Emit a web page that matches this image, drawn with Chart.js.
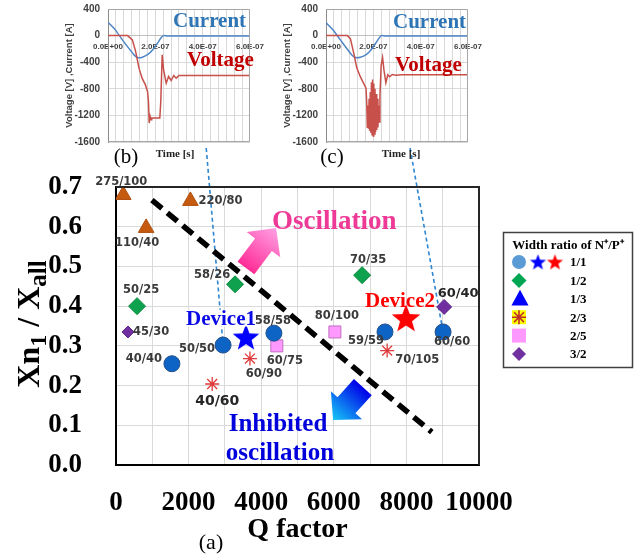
<!DOCTYPE html>
<html>
<head>
<meta charset="utf-8">
<script src="https://cdn.jsdelivr.net/npm/chart.js@4.4.1/dist/chart.umd.min.js"></script>
<style>
  html, body { margin:0; padding:0; background:#ffffff; }
  #wrap { position:relative; width:644px; height:556px; overflow:hidden; background:#fff; }
  #wrap canvas { position:absolute; top:0; }
</style>
</head>
<body>
<div id="wrap">
  <canvas id="main" width="644" height="556" style="left:0"></canvas>
  <canvas id="insetB" width="270" height="172" style="left:0"></canvas>
  <canvas id="insetC" width="270" height="172" style="left:218px"></canvas>
</div>
<script>
// ================= Panel (a): Q factor vs Xn1/Xall =================
const triLabels = ['275/100', '220/80', '110/40'];          // width ratio 1/3
const triQ = [200, 2050, 830];
const triR = [0.680, 0.665, 0.597];

const greenLabels = ['50/25', '58/26', '70/35'];            // width ratio 1/2
const greenQ = [580, 3280, 6780];
const greenR = [0.400, 0.455, 0.478];

const purpleLabels = ['45/30', '60/40'];                    // width ratio 3/2
const purpleQ = [330, 9040];
const purpleR = [0.335, 0.398];

const circleLabels = ['40/40', '50/50', '58/58', '59/59', '60/60']; // width ratio 1/1
const circleQ = [1540, 2950, 4350, 7410, 9010];
const circleR = [0.255, 0.302, 0.332, 0.335, 0.335];

const device1Q = [3580];
const device1R = [0.322];
const device2Q = [7990];
const device2R = [0.370];

const pinkLabels = ['80/100', '60/75'];                     // width ratio 2/5
const pinkQ = [6030, 4430];
const pinkR = [0.335, 0.300];

const asterLabels = ['60/90', '40/60', '70/105'];           // width ratio 2/3
const asterQ = [3690, 2650, 7470];
const asterR = [0.268, 0.204, 0.288];

const boundaryQ = [990, 8700];
const boundaryR = [0.667, 0.083];

const qMin = 0, qMax = 10000, qGridStep = 1000, qLabelStep = 2000;
const rMin = 0, rMax = 0.7, rStep = 0.1;

const legendTitle = 'Width ratio of N\u207A/P\u207A';
const legendRatios = ['1/1', '1/2', '1/3', '2/3', '2/5', '3/2'];

// ================= Panels (b) and (c): waveforms =================
const timeVoltB = [0, 0.83e-7, 1.03e-7, 1.17e-7, 1.31e-7, 1.44e-7, 1.58e-7, 1.67e-7, 1.71e-7, 1.74e-7, 1.78e-7,
  1.82e-7, 1.85e-7, 2.19e-7, 2.23e-7, 2.29e-7, 2.35e-7, 2.46e-7, 2.56e-7, 2.67e-7, 2.78e-7, 2.88e-7, 3.0e-7, 3.2e-7, 6.0e-7];
const voltB = [0, 0, -65, -240, -490, -640, -740, -840, -990, -1315, -1215,
  -1265, -1240, -1240, -990, -290, -515, -715, -615, -675, -600, -640, -600, -600, -600];
const timeCurrB = [0, 0.3e-7, 0.6e-7, 0.9e-7, 1.1e-7, 1.25e-7, 1.45e-7, 1.7e-7, 1.9e-7, 2.1e-7, 2.25e-7, 2.35e-7, 2.5e-7, 6.0e-7];
const currB = [200, 90, -60, -200, -290, -330, -325, -280, -210, -110, -30, 0, -5, -5];

const timeVoltC = [0, 0.9e-7, 1.03e-7, 1.17e-7, 1.3e-7, 1.44e-7, 1.58e-7, 1.69e-7, 1.72e-7, 1.745e-7, 1.77e-7, 1.795e-7,
  1.82e-7, 1.845e-7, 1.87e-7, 1.895e-7, 1.92e-7, 1.945e-7, 1.97e-7, 1.995e-7, 2.02e-7, 2.045e-7, 2.07e-7, 2.095e-7,
  2.12e-7, 2.145e-7, 2.17e-7, 2.195e-7, 2.22e-7, 2.245e-7, 2.28e-7, 2.33e-7, 2.39e-7, 2.45e-7, 2.53e-7, 2.61e-7,
  2.69e-7, 2.8e-7, 2.95e-7, 3.2e-7, 6.0e-7];
const voltC = [0, 0, -45, -260, -485, -610, -710, -790, -1000, -1380, -1050, -1400,
  -950, -1430, -850, -1460, -700, -1490, -660, -1510, -720, -1480, -800, -1450,
  -880, -1420, -950, -1380, -1050, -1300, -900, -450, -330, -520, -710, -590,
  -620, -585, -595, -590, -590];
const timeCurrC = [0, 0.3e-7, 0.6e-7, 0.9e-7, 1.1e-7, 1.25e-7, 1.45e-7, 1.7e-7, 1.9e-7, 2.1e-7, 2.25e-7, 2.33e-7, 2.5e-7, 6.0e-7];
const currC = [195, 85, -60, -205, -295, -330, -325, -285, -215, -115, -35, 0, -5, -5];

const insetTimeMax = 6e-7, insetTimeLabelStep = 2e-7, insetTimeGridDivisions = 18;
const insetVMin = -1600, insetVMax = 400, insetVGrid = 200, insetVLabelStep = 400;
const insetYTitle = 'Voltage [V] ,Current [A]';
const insetXTitle = 'Time [s]';

// ================= helpers =================
const SERIF = '"Liberation Serif", "Times New Roman", serif';
const SANS = '"Liberation Sans", Arial, sans-serif';
const LABELFONT = '"DejaVu Sans", sans-serif';

function pts(xs, ys) { return xs.map((x, i) => ({ x: x, y: ys[i] })); }

function sci(v) {
  if (Math.abs(v) < 1e-15) return '0.0E+00';
  const e = Math.floor(Math.log10(Math.abs(v)) + 1e-9);
  const m = v / Math.pow(10, e);
  return m.toFixed(1) + 'E' + (e < 0 ? '-' : '+') + String(Math.abs(e)).padStart(2, '0');
}

function makeStar(color, R) {
  const size = Math.ceil(2 * R + 2);
  const c = document.createElement('canvas');
  c.width = size; c.height = size;
  const g = c.getContext('2d');
  const cx = size / 2, cy = size / 2 + R * 0.08;
  g.beginPath();
  for (let i = 0; i < 10; i++) {
    const r = i % 2 === 0 ? R : R * 0.42;
    const a = -Math.PI / 2 + i * Math.PI / 5;
    g.lineTo(cx + r * Math.cos(a), cy + r * Math.sin(a));
  }
  g.closePath();
  g.fillStyle = color;
  g.fill();
  return c;
}

// ================= insets =================
const insetStyles = {
  B: { left: 0, current: [173, 27], voltage: [187, 66], time: [175, 157], tag: ['(b)', 126, 163] },
  C: { left: 218, current: [175, 28], voltage: [177, 71], time: [183, 157], tag: ['(c)', 114, 163] }
};

function insetDecor(st) {
  return {
    id: 'insetDecor',
    afterDraw(chart) {
      const ctx = chart.ctx, a = chart.chartArea;
      ctx.save();
      ctx.strokeStyle = '#A6A6A6';
      ctx.lineWidth = 1;
      ctx.beginPath();
      ctx.moveTo(a.left, a.top + 0.5); ctx.lineTo(a.right - 0.5, a.top + 0.5);
      ctx.lineTo(a.right - 0.5, a.bottom - 0.5); ctx.lineTo(a.left, a.bottom - 0.5);
      ctx.stroke();
      ctx.restore();

      ctx.save();
      ctx.translate(a.left - 39, (a.top + a.bottom) / 2);
      ctx.rotate(-Math.PI / 2);
      ctx.font = 'bold 9.5px ' + SANS;
      ctx.fillStyle = '#404040';
      ctx.textAlign = 'center';
      ctx.textBaseline = 'middle';
      ctx.fillText(insetYTitle, 0, 0);
      ctx.restore();

      ctx.save();
      ctx.textBaseline = 'alphabetic';
      ctx.textAlign = 'left';
      ctx.font = 'bold 21px ' + SERIF;
      ctx.fillStyle = '#2E75B6';
      ctx.fillText('Current', st.current[0], st.current[1]);
      ctx.font = 'bold 21px ' + SERIF;
      ctx.fillStyle = '#C00000';
      ctx.fillText('Voltage', st.voltage[0], st.voltage[1]);
      ctx.textAlign = 'center';
      ctx.font = 'bold 11px ' + SERIF;
      ctx.fillStyle = '#222';
      ctx.fillText(insetXTitle, st.time[0], st.time[1]);
      ctx.font = '21px ' + SERIF;
      ctx.fillStyle = '#000';
      ctx.fillText(st.tag[0], st.tag[1], st.tag[2]);
      ctx.restore();
    }
  };
}

function makeInset(id, tv, v, tc, c, st) {
  return new Chart(document.getElementById(id), {
    type: 'line',
    data: {
      datasets: [
        { data: pts(tv, v), borderColor: '#C8504B', borderWidth: 1.5, pointRadius: 0, tension: 0 },
        { data: pts(tc, c), borderColor: '#4F86C6', borderWidth: 1.5, pointRadius: 0, tension: 0.2 }
      ]
    },
    options: {
      responsive: false, animation: false, devicePixelRatio: 1,
      layout: { padding: { left: 0, top: 9, right: 16, bottom: 30 } },
      plugins: { legend: { display: false }, tooltip: { enabled: false } },
      scales: {
        x: {
          type: 'linear', min: 0, max: insetTimeMax, position: { y: 0 },
          afterFit(scale) { scale.height = 0; },
          afterBuildTicks(scale) {
            const t = [];
            for (let i = 0; i <= insetTimeGridDivisions; i++) t.push({ value: i * insetTimeMax / insetTimeGridDivisions });
            scale.ticks = t;
          },
          ticks: {
            autoSkip: false, maxRotation: 0, padding: 6, color: '#404040',
            font: { family: SANS, size: 8, weight: 'bold' },
            callback: (val, idx) => (idx % (insetTimeGridDivisions * insetTimeLabelStep / insetTimeMax) === 0 ? sci(val) : '')
          },
          grid: { color: '#D9D9D9', drawTicks: false, lineWidth: 1 },
          border: { display: true, color: '#BFBFBF', width: 1 }
        },
        y: {
          min: insetVMin, max: insetVMax,
          afterFit(scale) { scale.width = 108; scale.paddingTop = 0; scale.paddingBottom = 0; },
          ticks: {
            stepSize: insetVGrid, padding: 8, color: '#404040',
            font: { family: SANS, size: 10, weight: 'bold' },
            callback: v => (Math.round(v) % insetVLabelStep === 0 ? String(Math.round(v)) : '')
          },
          grid: { color: '#D9D9D9', drawTicks: false, lineWidth: 1 },
          border: { display: true, color: '#8C8C8C', width: 1 }
        }
      }
    },
    plugins: [insetDecor(st)]
  });
}

const insetB = makeInset('insetB', timeVoltB, voltB, timeCurrB, currB, insetStyles.B);
const insetC = makeInset('insetC', timeVoltC, voltC, timeCurrC, currC, insetStyles.C);

// ================= main chart decorations =================
const labelStyle = {
  '275/100': [-2, -13, 'center', 11.5], '220/80': [8, 0, 'left', 11.5], '110/40': [-9, 15, 'center', 11.5],
  '58/26': [-23, -9, 'center', 11.5], '50/25': [4, -16, 'center', 11.5], '70/35': [6, -15, 'center', 11.5],
  '45/30': [5, 0, 'left', 11.5], '60/40': [14, -13, 'center', 13],
  '40/40': [-10, -5, 'right', 11.5], '50/50': [-8, 4, 'right', 11.5], '58/58': [-1, -12, 'center', 11.5],
  '59/59': [-19, 9, 'center', 11.5], '60/60': [9, 10, 'center', 11.5],
  '80/100': [2, -16, 'center', 11.5], '60/75': [8, 15, 'center', 11.5],
  '60/90': [14, 15, 'center', 11.5], '40/60': [5, 17, 'center', 14], '70/105': [8, 9, 'left', 11.5]
};

const annotationTexts = [
  { text: 'Oscillation', q: 4298, r: 0.594, align: 'left', size: 27, color: '#EE3A96' },
  { text: 'Device1', q: 1928, r: 0.353, align: 'left', size: 21, color: '#0A0AE6', bg: true },
  { text: 'Device2', q: 6860, r: 0.398, align: 'left', size: 21, color: '#FF0000' },
  { text: 'Inhibited', q: 4463, r: 0.0856, align: 'center', size: 25, color: '#0000DD' },
  { text: 'oscillation', q: 4518, r: 0.0126, align: 'center', size: 25, color: '#0000DD' }
];

const arrowShapes = [
  { tail: [3580, 0.496], tip: [4410, 0.597], shaft: 21, head: 42, headLen: 21, c0: '#FF2D96', c1: '#FFA0E4' },
  { tail: [6800, 0.196], tip: [5980, 0.113], shaft: 24, head: 42, headLen: 20, c0: '#0000E8', c1: '#16C8F6' }
];

const connectors = [
  { inset: () => insetB, left: insetStyles.B.left, t: 4.15e-7, ds: 'circles', idx: 1 },
  { inset: () => insetC, left: insetStyles.C.left, t: 3.55e-7, ds: 'circles', idx: 4 }
];

function drawArrow(ctx, p0, p1, shaft, head, headLen, c0, c1) {
  const dx = p1[0] - p0[0], dy = p1[1] - p0[1];
  const L = Math.hypot(dx, dy);
  const ux = dx / L, uy = dy / L, nx = -uy, ny = ux;
  const nk = [p1[0] - ux * headLen, p1[1] - uy * headLen];
  const g = ctx.createLinearGradient(p0[0], p0[1], p1[0], p1[1]);
  g.addColorStop(0, c0); g.addColorStop(1, c1);
  ctx.beginPath();
  ctx.moveTo(p0[0] + nx * shaft / 2, p0[1] + ny * shaft / 2);
  ctx.lineTo(nk[0] + nx * shaft / 2, nk[1] + ny * shaft / 2);
  ctx.lineTo(nk[0] + nx * head / 2, nk[1] + ny * head / 2);
  ctx.lineTo(p1[0], p1[1]);
  ctx.lineTo(nk[0] - nx * head / 2, nk[1] - ny * head / 2);
  ctx.lineTo(nk[0] - nx * shaft / 2, nk[1] - ny * shaft / 2);
  ctx.lineTo(p0[0] - nx * shaft / 2, p0[1] - ny * shaft / 2);
  ctx.closePath();
  ctx.fillStyle = g;
  ctx.fill();
}

function shape(ctx, kind, x, y, r, fill, stroke, lw) {
  ctx.beginPath();
  if (kind === 'circle') ctx.arc(x, y, r, 0, Math.PI * 2);
  else if (kind === 'diamond') { ctx.moveTo(x, y - r); ctx.lineTo(x + r, y); ctx.lineTo(x, y + r); ctx.lineTo(x - r, y); ctx.closePath(); }
  else if (kind === 'triangle') { ctx.moveTo(x, y - r); ctx.lineTo(x + r * 0.95, y + r * 0.75); ctx.lineTo(x - r * 0.95, y + r * 0.75); ctx.closePath(); }
  else if (kind === 'square') ctx.rect(x - r, y - r, 2 * r, 2 * r);
  if (fill) { ctx.fillStyle = fill; ctx.fill(); }
  if (stroke) { ctx.strokeStyle = stroke; ctx.lineWidth = lw || 1; ctx.stroke(); }
}

function asterisk(ctx, x, y, r, color, lw) {
  ctx.beginPath();
  for (let i = 0; i < 4; i++) {
    const a = i * Math.PI / 4;
    ctx.moveTo(x - r * Math.cos(a), y - r * Math.sin(a));
    ctx.lineTo(x + r * Math.cos(a), y + r * Math.sin(a));
  }
  ctx.strokeStyle = color; ctx.lineWidth = lw; ctx.stroke();
}

const legendBox = { x: 503.5, y: 232.5, w: 129, h: 135, markerX: 519, labelX: 570, row0: 262, rowStep: 18.4 };
const legendStarBlue = makeStar('#0000FF', 8.5);
const legendStarRed = makeStar('#FF0000', 8.5);

function drawLegend(ctx) {
  const L = legendBox;
  ctx.save();
  ctx.fillStyle = '#fff';
  ctx.fillRect(L.x, L.y, L.w, L.h);
  ctx.strokeStyle = '#404040'; ctx.lineWidth = 1.5;
  ctx.strokeRect(L.x, L.y, L.w, L.h);
  ctx.fillStyle = '#000';
  ctx.font = 'bold 13px ' + SERIF;
  ctx.textAlign = 'center'; ctx.textBaseline = 'alphabetic';
  ctx.fillText(legendTitle, L.x + L.w / 2, L.y + 16);
  ctx.font = 'bold 13px ' + SERIF;
  ctx.textAlign = 'left'; ctx.textBaseline = 'middle';
  legendRatios.forEach((lab, i) => {
    const y = L.row0 + i * L.rowStep;
    const mx = L.markerX;
    if (i === 0) {
      shape(ctx, 'circle', mx, y, 7, '#5B9BD5');
      ctx.drawImage(legendStarBlue, 538 - legendStarBlue.width / 2, y - legendStarBlue.height / 2);
      ctx.drawImage(legendStarRed, 555 - legendStarRed.width / 2, y - legendStarRed.height / 2);
    } else if (i === 1) shape(ctx, 'diamond', mx, y, 7.5, '#00A651');
    else if (i === 2) shape(ctx, 'triangle', mx + 1, y, 9, '#0000FF');
    else if (i === 3) { shape(ctx, 'square', mx, y, 7, '#FFFF00'); asterisk(ctx, mx, y, 7, '#C0302A', 1.6); }
    else if (i === 4) shape(ctx, 'square', mx, y, 7, '#FF99FF');
    else shape(ctx, 'diamond', mx, y, 7, '#7030A0');
    ctx.fillStyle = '#000';
    ctx.fillText(lab, L.labelX, y + 1);
  });
  ctx.restore();
}

function drawYTitle(ctx) {
  const segs = [
    { t: 'Xn', s: 32, dy: 0 }, { t: '1', s: 24, dy: 7 }, { t: ' / ', s: 32, dy: 0 },
    { t: 'X', s: 32, dy: 0 }, { t: 'all', s: 25, dy: 7 }
  ];
  ctx.save();
  ctx.translate(39, 324);
  ctx.rotate(-Math.PI / 2);
  let total = 0;
  segs.forEach(sg => { ctx.font = 'bold ' + sg.s + 'px ' + SERIF; sg.w = ctx.measureText(sg.t).width; total += sg.w; });
  let x = -total / 2;
  ctx.fillStyle = '#000'; ctx.textAlign = 'left'; ctx.textBaseline = 'alphabetic';
  segs.forEach(sg => { ctx.font = 'bold ' + sg.s + 'px ' + SERIF; ctx.fillText(sg.t, x, sg.dy); x += sg.w; });
  ctx.restore();
}

const mainDecor = {
  id: 'mainDecor',
  beforeDatasetsDraw(chart) {
    const ctx = chart.ctx;
    ctx.save();
    ctx.strokeStyle = '#2E86D0'; ctx.lineWidth = 1.6; ctx.setLineDash([4, 3]);
    connectors.forEach(cn => {
      const ins = cn.inset();
      const x0 = cn.left + ins.scales.x.getPixelForValue(cn.t);
      const y0 = ins.chartArea.bottom + 6;
      const dsIndex = chart.data.datasets.findIndex(d => d.key === cn.ds);
      const el = chart.getDatasetMeta(dsIndex).data[cn.idx];
      ctx.beginPath(); ctx.moveTo(x0, y0); ctx.lineTo(el.x, el.y); ctx.stroke();
    });
    ctx.restore();
  },
  afterDatasetsDraw(chart) {
    const ctx = chart.ctx, a = chart.chartArea, xs = chart.scales.x, ys = chart.scales.y;
    ctx.save();
    ctx.strokeStyle = '#262626'; ctx.lineWidth = 2;
    ctx.beginPath();
    ctx.moveTo(a.left, a.top); ctx.lineTo(a.right, a.top); ctx.lineTo(a.right, a.bottom);
    ctx.stroke();
    ctx.restore();
    ctx.save();
    arrowShapes.forEach(ar => {
      drawArrow(ctx, [xs.getPixelForValue(ar.tail[0]), ys.getPixelForValue(ar.tail[1])],
        [xs.getPixelForValue(ar.tip[0]), ys.getPixelForValue(ar.tip[1])], ar.shaft, ar.head, ar.headLen, ar.c0, ar.c1);
    });
    ctx.restore();
    ctx.save();
    ctx.textBaseline = 'middle';
    chart.data.datasets.forEach((ds, di) => {
      if (!ds.pointLabels) return;
      const meta = chart.getDatasetMeta(di);
      ds.pointLabels.forEach((lab, i) => {
        const st = labelStyle[lab];
        const el = meta.data[i];
        ctx.font = 'bold ' + st[3] + 'px ' + LABELFONT;
        ctx.fillStyle = st[3] > 12 ? '#262626' : '#3A3A3A';
        ctx.textAlign = st[2];
        ctx.fillText(lab, el.x + st[0], el.y + st[1]);
      });
    });
    ctx.restore();
    ctx.save();
    ctx.textBaseline = 'alphabetic';
    annotationTexts.forEach(t => {
      const px = xs.getPixelForValue(t.q), py = ys.getPixelForValue(t.r);
      ctx.font = 'bold ' + t.size + 'px ' + SERIF;
      ctx.textAlign = t.align;
      if (t.bg) {
        const w = ctx.measureText(t.text).width;
        const x0 = t.align === 'center' ? px - w / 2 : px;
        ctx.fillStyle = '#fff';
        ctx.fillRect(x0, py - t.size * 0.72, w, t.size * 0.8);
      }
      ctx.fillStyle = t.color;
      ctx.fillText(t.text, px, py);
    });
    ctx.restore();
  },
  afterDraw(chart) {
    const ctx = chart.ctx;
    drawLegend(ctx);
    drawYTitle(ctx);
    ctx.save();
    ctx.font = '22px ' + SERIF; ctx.fillStyle = '#000'; ctx.textAlign = 'center'; ctx.textBaseline = 'alphabetic';
    ctx.fillText('(a)', 211, 549);
    ctx.restore();
  }
};

const mainChart = new Chart(document.getElementById('main'), {
  type: 'scatter',
  data: {
    datasets: [
      { key: 'device1', data: pts(device1Q, device1R), pointStyle: makeStar('#0000FF', 14), pointRadius: 14 },
      { key: 'device2', data: pts(device2Q, device2R), pointStyle: makeStar('#FF0000', 15), pointRadius: 15 },
      { key: 'circles', data: pts(circleQ, circleR), pointLabels: circleLabels, pointStyle: 'circle', pointRadius: 8,
        backgroundColor: '#0E64C4', borderColor: '#24508A', borderWidth: 1 },
      { key: 'green', data: pts(greenQ, greenR), pointLabels: greenLabels, pointStyle: 'rectRot', pointRadius: 8.5,
        backgroundColor: '#0FA24E', borderColor: '#0C8A40', borderWidth: 1 },
      { key: 'purple', data: pts(purpleQ, purpleR), pointLabels: purpleLabels, pointStyle: 'rectRot', pointRadius: [6, 7.5],
        backgroundColor: '#7030A0', borderColor: '#5E2886', borderWidth: 1 },
      { key: 'tri', data: pts(triQ, triR), pointLabels: triLabels, pointStyle: 'triangle', pointRadius: 9,
        backgroundColor: '#C55A11', borderColor: '#B04E0C', borderWidth: 1 },
      { key: 'pink', data: pts(pinkQ, pinkR), pointLabels: pinkLabels, pointStyle: 'rect', pointRadius: 8.5,
        backgroundColor: '#FF99FF', borderColor: '#C070C0', borderWidth: 1 },
      { key: 'aster', data: pts(asterQ, asterR), pointLabels: asterLabels, pointStyle: 'star', pointRadius: 7,
        backgroundColor: 'rgba(0,0,0,0)', borderColor: '#E03A3A', borderWidth: 1.3 },
      { key: 'boundary', type: 'line', data: pts(boundaryQ, boundaryR), borderColor: '#000', borderWidth: 5.5,
        borderDash: [13, 7], pointRadius: 0, showLine: true, order: 10, fill: false }
    ]
  },
  options: {
    responsive: false, animation: false, devicePixelRatio: 1,
    layout: { padding: { left: 0, top: 187, right: 165, bottom: 0 } },
    plugins: { legend: { display: false }, tooltip: { enabled: false } },
    scales: {
      x: {
        type: 'linear', min: qMin, max: qMax,
        afterFit(scale) { scale.height = 91; },
        ticks: {
          stepSize: qGridStep, autoSkip: false, maxRotation: 0, padding: 22, color: '#000',
          font: { family: SERIF, size: 27, weight: 'bold' },
          callback: v => (v % qLabelStep === 0 ? String(v) : '')
        },
        grid: { color: '#D9D9D9', drawTicks: false, lineWidth: 1 },
        border: { display: true, color: '#000', width: 2 },
        title: { display: true, text: 'Q factor', color: '#000', font: { family: SERIF, size: 28, weight: 'bold' },
          padding: { top: 0, bottom: 9 } }
      },
      y: {
        type: 'linear', min: rMin, max: rMax,
        afterFit(scale) { scale.width = 116; },
        ticks: {
          stepSize: rStep, padding: 34, color: '#000',
          font: { family: SERIF, size: 27, weight: 'bold' },
          callback: v => v.toFixed(1)
        },
        grid: { color: '#D9D9D9', drawTicks: false, lineWidth: 1 },
        border: { display: true, color: '#000', width: 2 }
      }
    }
  },
  plugins: [mainDecor]
});
</script>
</body>
</html>
